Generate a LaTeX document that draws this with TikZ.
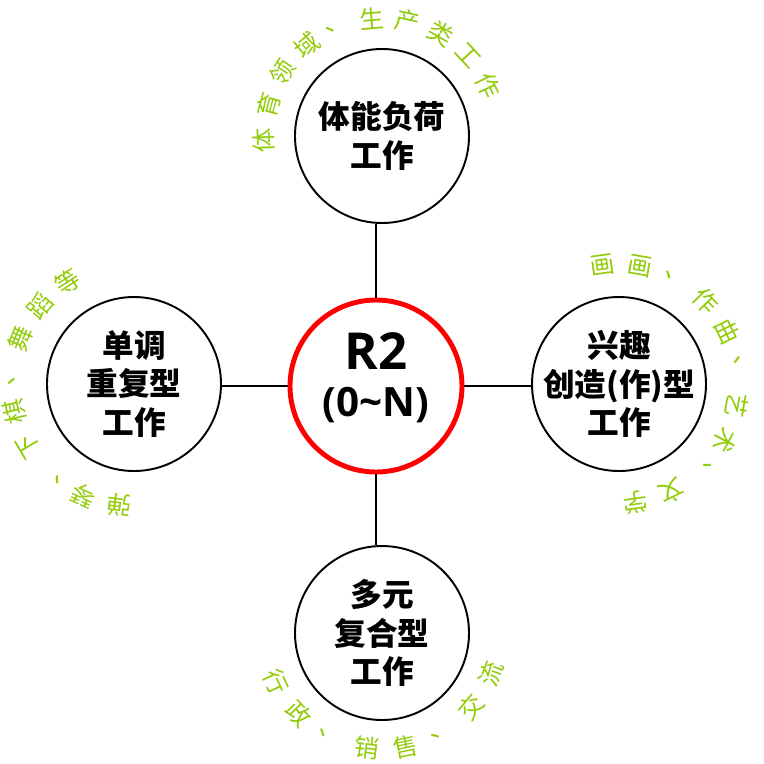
\documentclass[tikz,border=0pt]{standalone}
\usepackage{fontspec}
\setmainfont{Open Sans}
\newfontfamily\cjk{Noto Sans CJK SC}
\definecolor{leaf}{RGB}{146,204,10}

\tikzset{
  job/.style={circle, draw, line width=1.1pt, minimum size=3.48cm, inner sep=-20pt,
    align=center, font=\cjk\bfseries\fontsize{18}{22}\selectfont},
  hub/.style={circle, draw=red, line width=2.8pt, minimum size=3.44cm, inner sep=0pt,
    align=center, text depth=13pt, font=\bfseries\fontsize{23}{27}\selectfont},
  link/.style={line width=0.8pt},
  leafchar/.style={text=leaf, inner sep=0pt, font=\cjk\fontsize{14}{14}\selectfont}
}

\begin{document}
\begin{tikzpicture}

\useasboundingbox (0,0) rectangle (15.28,-15.26);

% Centre and the four kinds of work
\node[hub] (R2) at (7.52,-7.72) {{\fontsize{29}{29}\selectfont R2}\\(0\textasciitilde N)};
\node[job] (top) at (7.64,-2.72) {体能负荷\\工作};
\node[job] (left) at (2.68,-7.68) {单调\\重复型\\工作};
\node[job] (right) at (12.38,-7.68) {兴趣\\创造(作)型\\工作};
\node[job] (bottom) at (7.64,-12.66) {多元\\复合型\\工作};

% Spokes
\draw[link] (R2.north) -- (R2.north |- top.south);
\draw[link] (R2.west) -- (R2.west -| left.east);
\draw[link] (R2.east) -- (R2.east -| right.west);
\draw[link] (R2.south) -- (R2.south |- bottom.north);

% Examples round the circles
\foreach \ch [count=\i from 0, evaluate=\i as \a using 182-17.4*\i] in {体,育,领,域,、,生,产,类,工,作}
  \node[leafchar, rotate=\a-90] at ([shift={(\a:2.36cm)}]top.center) {\ch};
\foreach \ch [count=\i from 0, evaluate=\i as \a using 263-17.5*\i] in {弹,琴,、,下,棋,、,舞,蹈,等}
  \node[leafchar, rotate=\a-90] at ([shift={(\a:2.44cm)}]left.center) {\ch};
\foreach \ch [count=\i from 0, evaluate=\i as \a using 98-18*\i] in {画,画,、,作,曲,、,艺,术,、,文,学}
  \node[leafchar, rotate=\a-90] at ([shift={(\a:2.4cm)}]right.center) {\ch};
\foreach \ch [count=\i from 0, evaluate=\i as \a using 204.6+19.3*\i] in {行,政,、,销,售,、,交,流}
  \node[leafchar, rotate=\a+90] at ([shift={(\a:2.32cm)}]bottom.center) {\ch};

\end{tikzpicture}
\end{document}
